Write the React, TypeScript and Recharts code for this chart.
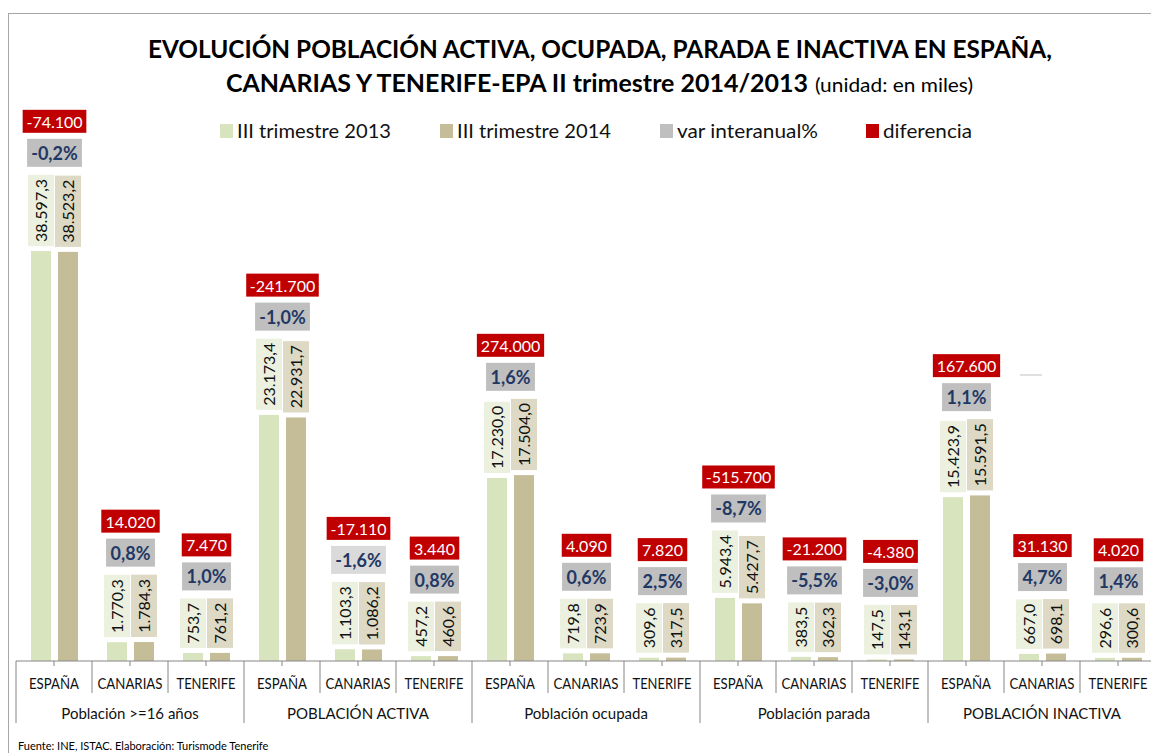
import { BarChart, Bar, XAxis, YAxis } from 'recharts';

const regions = [
  'ESPAÑA', 'CANARIAS', 'TENERIFE',
  'ESPAÑA', 'CANARIAS', 'TENERIFE',
  'ESPAÑA', 'CANARIAS', 'TENERIFE',
  'ESPAÑA', 'CANARIAS', 'TENERIFE',
  'ESPAÑA', 'CANARIAS', 'TENERIFE',
];
const groups = [
  'Población >=16 años',
  'POBLACIÓN ACTIVA',
  'Población ocupada',
  'Población parada',
  'POBLACIÓN INACTIVA',
];
const trim2013 = [
  38597.3, 1770.3, 753.7, 23173.4, 1103.3, 457.2, 17230.0, 719.8, 309.6,
  5943.4, 383.5, 147.5, 15423.9, 667.0, 296.6,
];
const trim2014 = [
  38523.2, 1784.3, 761.2, 22931.7, 1086.2, 460.6, 17504.0, 723.9, 317.5,
  5427.7, 362.3, 143.1, 15591.5, 698.1, 300.6,
];
const varInteranual = [
  -0.2, 0.8, 1.0, -1.0, -1.6, 0.8, 1.6, 0.6, 2.5, -8.7, -5.5, -3.0, 1.1, 4.7, 1.4,
];
const diferencia = [
  -74100, 14020, 7470, -241700, -17110, 3440, 274000, 4090, 7820,
  -515700, -21200, -4380, 167600, 31130, 4020,
];
const legendItems = ['III trimestre 2013', 'III trimestre 2014', 'var interanual%', 'diferencia'];

const data = regions.map((r, i) => ({
  region: r,
  group: groups[Math.floor(i / 3)],
  v2013: trim2013[i],
  v2014: trim2014[i],
  pct: varInteranual[i],
  diff: diferencia[i],
}));

const FONT = 'Lato, "Open Sans", sans-serif';
const C2013 = '#d7e4bd';
const C2014 = '#c4bd97';
const L2013 = '#ebf1de';
const L2014 = '#ddd9c4';
const VARBOX = '#bfbfbf';
const RED = '#c00000';

// "38.597,3" style, thousands with dots
function groupThousands(n: number) {
  const s = String(Math.abs(Math.trunc(n)));
  let out = '';
  for (let i = 0; i < s.length; i++) {
    if (i > 0 && (s.length - i) % 3 === 0) out += '.';
    out += s[i];
  }
  return (n < 0 ? '-' : '') + out;
}
const fmtVal = (v: number) => groupThousands(Math.floor(v)) + ',' + Math.round((v * 10) % 10);
const fmtPct = (v: number) => (v < 0 ? '-' : '') + Math.abs(v).toFixed(1).replace('.', ',') + '%';

// rough text width estimate for Lato
function textW(s: string, size: number, bold = false) {
  let w = 0;
  for (const ch of s) {
    if (/[0-9]/.test(ch)) w += 0.555;
    else if (ch === '.' || ch === ',') w += 0.25;
    else if (ch === '%') w += bold ? 0.8 : 0.75;
    else if (ch === '-') w += 0.33;
    else w += 0.55;
  }
  return w * size;
}

const LABEL_FS = 16;
const labelLen = (v: number) => textW(fmtVal(v), LABEL_FS) + 10;

function ValueBox({ cx, bottom, v, fill }: { cx: number; bottom: number; v: number; fill: string }) {
  const len = labelLen(v);
  const w = 26;
  const midY = bottom - len / 2;
  return (
    <g>
      <rect x={cx - w / 2} y={bottom - len} width={w} height={len} fill={fill} />
      <text
        x={cx}
        y={midY}
        transform={`rotate(-90 ${cx} ${midY})`}
        textAnchor="middle"
        dominantBaseline="central"
        fontFamily={FONT}
        fontSize={LABEL_FS}
        fill="#111"
      >
        {fmtVal(v)}
      </text>
    </g>
  );
}

const Bar2013Shape = (props: any) => {
  const { x, y, width, height, payload } = props;
  return (
    <g>
      <rect x={x} y={y} width={width} height={height} fill={C2013} />
      <ValueBox cx={x + width / 2} bottom={y - 5} v={payload.v2013} fill={L2013} />
    </g>
  );
};

const BAR_GAP = 7;

const Bar2014Shape = (props: any) => {
  const { x, y, width, height, payload, index } = props;
  const bottom = y + height;
  const pxPerUnit = height / payload.v2014;
  const y2013 = bottom - payload.v2013 * pxPerUnit;
  const top2013 = y2013 - 5 - labelLen(payload.v2013);
  const top2014 = y - 5 - labelLen(payload.v2014);
  const labelTop = Math.min(top2013, top2014);
  const cx = x - BAR_GAP / 2;

  const pctText = fmtPct(payload.pct);
  const pctW = textW(pctText, 18, true) + 10;
  const pctH = 28;
  const pctBottom = labelTop - 8;

  const diffText = groupThousands(payload.diff);
  const diffW = textW(diffText, 16) + 10;
  const diffH = 23;
  const diffBottom = pctBottom - pctH - 6;

  return (
    <g>
      <rect x={x} y={y} width={width} height={height} fill={C2014} />
      <ValueBox cx={x + width / 2} bottom={y - 5} v={payload.v2014} fill={L2014} />
      <rect
        x={cx - pctW / 2}
        y={pctBottom - pctH}
        width={pctW}
        height={pctH}
        fill={index === 4 ? '#dadada' : VARBOX}
      />
      <text
        x={cx}
        y={pctBottom - pctH / 2}
        textAnchor="middle"
        dominantBaseline="central"
        fontFamily={FONT}
        fontWeight="bold"
        fontSize={18}
        fill="#1f3864"
      >
        {pctText}
      </text>
      <rect x={cx - diffW / 2} y={diffBottom - diffH} width={diffW} height={diffH} fill={RED} />
      <text
        x={cx}
        y={diffBottom - diffH / 2}
        textAnchor="middle"
        dominantBaseline="central"
        fontFamily={FONT}
        fontSize={16}
        fill="#ffffff"
      >
        {diffText}
      </text>
    </g>
  );
};

const CHART_W = 1160;
const MARGIN = { top: 130, right: 4, left: 16, bottom: 0 };
const BAND = (CHART_W - MARGIN.left - MARGIN.right) / data.length;

// Calibri-like narrow widths for the region names
const regionTextLen: Record<string, number> = { 'ESPAÑA': 50, CANARIAS: 65, TENERIFE: 59 };

const AxisTick = (props: any) => {
  const { x, y, payload } = props;
  const i = payload.index;
  const half = BAND / 2;
  const lineColor = '#868686';
  const groupStart = i % 3 === 0;
  return (
    <g>
      <line x1={x} x2={x} y1={y} y2={y + 5} stroke={lineColor} />
      <line x1={x - half} x2={x - half} y1={y} y2={y + (groupStart ? 62 : 32)} stroke={lineColor} />
      {i === data.length - 1 && (
        <line x1={x + half} x2={x + half} y1={y} y2={y + 62} stroke={lineColor} />
      )}
      <text
        x={x}
        y={y + 28}
        textAnchor="middle"
        fontFamily={FONT}
        fontSize={15}
        textLength={regionTextLen[payload.value]}
        lengthAdjust="spacingAndGlyphs"
        fill="#111"
      >
        {payload.value}
      </text>
      {i % 3 === 1 && (
        <text x={x} y={y + 58} textAnchor="middle" fontFamily={FONT} fontSize={15} fill="#111">
          {data[i].group}
        </text>
      )}
    </g>
  );
};

const legendColors = [C2013, C2014, VARBOX, RED];
const legendX = [220, 440, 660, 866];
const legendLen = [154, 154, 141, 89];

export default function App() {
  return (
    <div style={{ position: 'absolute', left: 0, top: 0, width: 1151, height: 753, overflow: 'hidden', background: '#fff' }}>
      <div style={{ position: 'absolute', left: 0, top: 0 }}>
        <BarChart width={CHART_W} height={753} data={data} margin={MARGIN} barSize={20} barGap={BAR_GAP}>
          <XAxis
            dataKey="region"
            height={92}
            interval={0}
            tickLine={false}
            tickSize={0}
            tickMargin={0}
            axisLine={{ stroke: '#868686' }}
            tick={<AxisTick />}
          />
          <YAxis hide domain={[0, 50000]} />
          <Bar dataKey="v2013" isAnimationActive={false} shape={<Bar2013Shape />} />
          <Bar dataKey="v2014" isAnimationActive={false} shape={<Bar2014Shape />} />
        </BarChart>
      </div>
      <svg width={1151} height={753} style={{ position: 'absolute', left: 0, top: 0, pointerEvents: 'none' }}>
        <line x1={8.5} x2={8.5} y1={13} y2={753} stroke="#a6a6a6" />
        <line x1={8} x2={1151} y1={13.5} y2={13.5} stroke="#a6a6a6" />
        <text
          x={148}
          y={58}
          fontFamily={FONT}
          fontWeight="bold"
          fontSize={25}
          textLength={904}
          lengthAdjust="spacingAndGlyphs"
          fill="#000"
        >
          EVOLUCIÓN POBLACIÓN ACTIVA, OCUPADA, PARADA E INACTIVA EN ESPAÑA,
        </text>
        <text
          x={226}
          y={92}
          fontFamily={FONT}
          fontWeight="bold"
          fontSize={25}
          textLength={582}
          lengthAdjust="spacingAndGlyphs"
          fill="#000"
        >
          CANARIAS Y TENERIFE-EPA II trimestre 2014/2013
        </text>
        <text x={815} y={92} fontFamily={FONT} fontSize={19} textLength={158} lengthAdjust="spacingAndGlyphs" fill="#000">
          (unidad: en miles)
        </text>
        {legendItems.map((name, i) => (
          <g key={name}>
            <rect x={legendX[i]} y={124} width={13} height={14} fill={legendColors[i]} />
            <text
              x={legendX[i] + 17}
              y={138}
              fontFamily={FONT}
              fontSize={19}
              textLength={legendLen[i]}
              lengthAdjust="spacingAndGlyphs"
              fill="#111"
            >
              {name}
            </text>
          </g>
        ))}
        <line x1={1020} x2={1042} y1={375} y2={375} stroke="#bfbfbf" />
        <text x={18} y={750} fontFamily={FONT} fontSize={11} fill="#000">
          Fuente: INE, ISTAC. Elaboración: Turismode Tenerife
        </text>
      </svg>
    </div>
  );
}
